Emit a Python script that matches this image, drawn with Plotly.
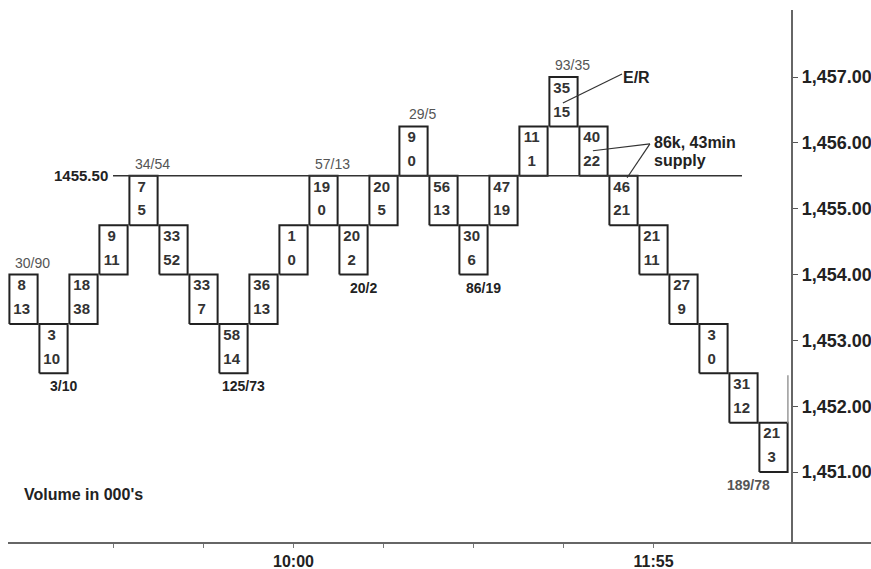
import plotly.graph_objects as go

# ---------------- data ----------------
columns = list(range(1, 27))
box_bottom = [1453.25, 1452.50, 1453.25, 1454.00, 1454.75, 1454.00, 1453.25, 1452.50,
              1453.25, 1454.00, 1454.75, 1454.00, 1454.75, 1455.50, 1454.75, 1454.00,
              1454.75, 1455.50, 1456.25, 1455.50, 1454.75, 1454.00, 1453.25, 1452.50,
              1451.75, 1451.00]
box_size = 0.75
top_volume = [8, 3, 18, 9, 7, 33, 33, 58, 36, 1, 19, 20, 20, 9, 56, 30, 47, 11, 35, 40, 46, 21, 27, 3, 31, 21]
bottom_volume = [13, 10, 38, 11, 5, 52, 7, 14, 13, 0, 0, 2, 5, 0, 13, 6, 19, 1, 15, 22, 21, 11, 9, 0, 12, 3]

swing_cols = [1, 2, 5, 8, 11, 12, 14, 16, 19, 26]
swing_text = ["30/90", "3/10", "34/54", "125/73", "57/13", "20/2", "29/5", "86/19", "93/35", "189/78"]
swing_side = ["above", "below", "above", "below", "above", "below", "above", "below", "above", "below"]

resistance_level = 1455.50
x_tick_vals = [4, 7, 10, 13, 16, 19, 22]
x_tick_text = ["", "", "10:00", "", "", "", "11:55"]
y_tick_vals = [1451, 1452, 1453, 1454, 1455, 1456, 1457]

# ---------------- figure ----------------
FONT = "Liberation Sans, Arial, sans-serif"
half_w = 0.47

bx, by = [], []
for c, b in zip(columns, box_bottom):
    t = b + box_size
    bx += [c - half_w, c + half_w, c + half_w, c - half_w, c - half_w, None]
    by += [b, b, t, t, b, None]

fig = go.Figure()
fig.add_trace(go.Scatter(x=bx, y=by, mode="lines",
                         line=dict(color="#222", width=2), hoverinfo="skip",
                         showlegend=False))
fig.add_trace(go.Scatter(x=[c - 0.06 for c in columns],
                         y=[b + 0.568 for b in box_bottom],
                         mode="text", text=[str(v) for v in top_volume],
                         textfont=dict(family=FONT, size=15, color="#333", weight="bold"),
                         showlegend=False, hoverinfo="skip"))
fig.add_trace(go.Scatter(x=[c - 0.06 for c in columns],
                         y=[b + 0.205 for b in box_bottom],
                         mode="text", text=[str(v) for v in bottom_volume],
                         textfont=dict(family=FONT, size=15, color="#333", weight="bold"),
                         showlegend=False, hoverinfo="skip"))

annotations = []
for c, txt, side in zip(swing_cols, swing_text, swing_side):
    b = box_bottom[c - 1]
    if side == "above":
        annotations.append(dict(x=c, y=b + box_size, xref="x", yref="y", text=txt,
                                showarrow=False, xshift=9, yshift=12,
                                font=dict(family=FONT, size=14, color="#555")))
    else:
        last = c == columns[-1]
        annotations.append(dict(x=c, y=b, xref="x", yref="y", text=txt,
                                showarrow=False, xshift=-25 if last else 10, yshift=-13,
                                font=dict(family=FONT, size=14,
                                          color="#555" if last else "#222",
                                          weight="bold")))

annotations.append(dict(x=0.118, y=resistance_level, xref="paper", yref="y",
                        text="1455.50", showarrow=False, xanchor="right",
                        font=dict(family=FONT, size=15, color="#222", weight="bold")))
annotations.append(dict(x=20.92, y=1457.0, xref="x", yref="y", text="E/R",
                        showarrow=False, xanchor="left",
                        font=dict(family=FONT, size=16, color="#222", weight="bold")))
annotations.append(dict(x=21.95, y=1456.0, xref="x", yref="y", text="86k, 43min",
                        showarrow=False, xanchor="left",
                        font=dict(family=FONT, size=16, color="#222", weight="bold")))
annotations.append(dict(x=21.95, y=1455.73, xref="x", yref="y", text="supply",
                        showarrow=False, xanchor="left",
                        font=dict(family=FONT, size=16, color="#222", weight="bold")))
annotations.append(dict(x=0.0162, y=0.0695, xref="paper", yref="paper",
                        text="Volume in 000's", showarrow=False, xanchor="left",
                        font=dict(family=FONT, size=16, color="#222", weight="bold")))

shapes = [
    dict(type="line", xref="paper", yref="y", x0=0.1217, x1=0.8505,
         y0=resistance_level, y1=resistance_level, line=dict(color="#333", width=1.5)),
    dict(type="line", xref="x", yref="y", x0=18.98, y0=1456.606, x1=20.95, y1=1457.045,
         line=dict(color="#333", width=1.2)),
    dict(type="line", xref="x", yref="y", x0=19.98, y0=1455.88, x1=21.88, y1=1455.985,
         line=dict(color="#333", width=1.2)),
    dict(type="line", xref="x", yref="y", x0=21.12, y0=1455.47, x1=21.88, y1=1455.985,
         line=dict(color="#333", width=1.2)),
    dict(type="line", xref="x", yref="y", x0=26.48, y0=1452.47, x1=26.48, y1=1451.74,
         line=dict(color="#999", width=1.5)),
]

fig.update_layout(
    width=871, height=569,
    margin=dict(l=8, r=0, t=10, b=27),
    paper_bgcolor="white", plot_bgcolor="white",
    annotations=annotations, shapes=shapes,
    xaxis=dict(range=[0.483, 29.25], showgrid=False, zeroline=False,
               showline=True, linecolor="#666", linewidth=2,
               tickmode="array", tickvals=x_tick_vals, ticktext=x_tick_text,
               ticks="outside", ticklen=4, tickcolor="#777", tickwidth=1,
               tickfont=dict(family=FONT, size=16, color="#222", weight="bold")),
    yaxis=dict(range=[1449.937, 1458.018], showgrid=False, zeroline=False,
               anchor="free", position=0.9085, side="right",
               showline=True, linecolor="#666", linewidth=2,
               tickmode="array", tickvals=y_tick_vals, tickformat=",.2f",
               ticks="outside", ticklen=5, tickcolor="#555", tickwidth=1,
               tickfont=dict(family=FONT, size=18, color="#222", weight="bold")),
)

# remove the browser's default 8px body margin so the 871x569 figure fills the window
fig.write_html("out.html",
               config={"displayModeBar": False},
               post_script="document.body.style.margin='0';document.body.style.overflow='hidden';")
